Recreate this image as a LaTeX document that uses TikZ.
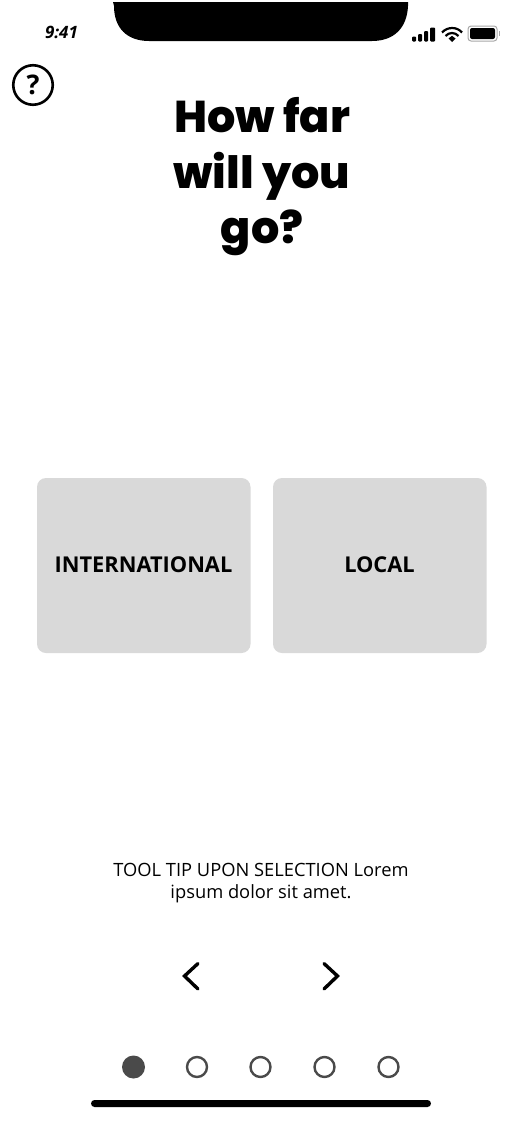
\documentclass[tikz,border=0pt]{standalone}
\usepackage{fontspec}
\setmainfont{Open Sans}
\newfontfamily\titlefont{Poppins ExtraBold}
\newfontfamily\btnfont{Open Sans}
\tikzset{
  x=1pt,y=-1pt,
  titleline/.style={font=\titlefont\fontsize{44.5}{44.5}\selectfont,text=black,inner sep=0pt,anchor=base},
  choice/.style={fill=cardgray,rounded corners=9pt},
  choicelabel/.style={font=\btnfont\bfseries\fontsize{21.8}{21.8}\selectfont,text=black,inner sep=0pt,anchor=base},
  tiptext/.style={font=\fontsize{18.3}{21}\selectfont,text=black,inner sep=0pt,anchor=base},
  chevron/.style={draw=black,line width=3.4pt,line cap=round,line join=miter},
  dotfull/.style={fill=dotgray},
  dotopen/.style={draw=dotgray,line width=2.4pt},
}
\definecolor{cardgray}{HTML}{D9D9D9}
\definecolor{dotgray}{HTML}{4A4A4A}
\definecolor{battgray}{HTML}{A8A8A8}
\begin{document}
\begin{tikzpicture}
\useasboundingbox (0,0) rectangle (522,1130);
\fill[white] (0,0) rectangle (522,1130);
% notch
\fill[black] (113,2) -- (408,2) -- (408,6) .. controls (407,28) and (394,41) .. (372,41) -- (149,41) .. controls (127,41) and (114,28) .. (114,6) -- cycle;
% status
\node[font=\btnfont\bfseries\itshape\fontsize{17}{17}\selectfont,inner sep=0pt,anchor=base] (time) at (61.5,38.5) {9:41};
\fill[black,rounded corners=1pt] (412,36.5) rectangle (416,41.5);
\fill[black,rounded corners=1pt] (418,34) rectangle (422,41.5);
\fill[black,rounded corners=1pt] (424,31) rectangle (428,41.5);
\fill[black,rounded corners=1pt] (430,27.5) rectangle (435,41.5);
% wifi
\draw[black,line width=2.2pt] (442,32.5) .. controls (447.5,26.5) and (457,26.5) .. (462,32.5);
\draw[black,line width=2.2pt] (445.5,36) .. controls (449,32) and (455,32) .. (458.5,36);
\fill[black] (448.5,38.5) -- (452,35.8) -- (455.5,38.5) -- (452,42) -- cycle;
% battery
\draw[battgray,line width=1pt,rounded corners=3pt] (468,26) rectangle (497,41);
\fill[black,rounded corners=2pt] (470,28) rectangle (495,39);
\fill[battgray] (498.5,31) rectangle (500,36);
% help
\node[draw=black,line width=2.6pt,circle,minimum size=39.5pt,inner sep=0pt,font=\btnfont\bfseries\fontsize{27}{27}\selectfont] (help) at (33,85) {?};
% title
\node[titleline] (t1) at (262,132.5) {How far};
\node[titleline] (t2) at (262,188) {will you};
\node[titleline] (t3) at (262,243) {go?};
% cards
\fill[choice] (37,478) rectangle (250.5,653);
\fill[choice] (273,478) rectangle (486.5,653);
\node[choicelabel] (intl) at (143.5,572.5) {INTERNATIONAL};
\node[choicelabel] (local) at (379.5,572.5) {LOCAL};
% tip
\node[tiptext] (tip1) at (261,876) {TOOL TIP UPON SELECTION Lorem};
\node[tiptext] (tip2) at (261,898) {ipsum dolor sit amet.};
% chevrons
\draw[chevron] (198,963.5) -- (184.5,976) -- (198,989);
\draw[chevron] (324,963.5) -- (337.5,976) -- (324,989);
% dots
\fill[dotfull] (133.5,1067) circle (11.5);
\draw[dotopen] (197,1067) circle (10);
\draw[dotopen] (260.5,1067) circle (10);
\draw[dotopen] (324.5,1067) circle (10);
\draw[dotopen] (388.5,1067) circle (10);
% home bar
\fill[black,rounded corners=3.5pt] (91,1100) rectangle (431,1107);
\end{tikzpicture}
\end{document}
